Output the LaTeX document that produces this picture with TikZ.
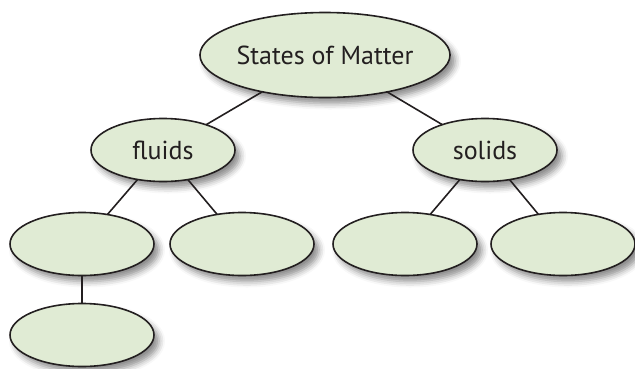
\documentclass[tikz,border=0pt]{standalone}
\usepackage{fontspec}
\setmainfont{PT Sans}
\usetikzlibrary{shapes.geometric,shadows.blur}
\definecolor{bubble}{RGB}{224,235,212}
\definecolor{ink}{RGB}{35,31,32}
\begin{document}
\begin{tikzpicture}[x=1pt,y=-1pt,
  concept/.style={ellipse, draw=ink, line width=1.6pt, fill=bubble,
    minimum width=144pt, minimum height=63pt, inner sep=0pt, outer sep=0pt,
    text=ink, font=\fontsize{26}{30}\selectfont,
    blur shadow={shadow xshift=5pt, shadow yshift=-6pt, shadow opacity=45, shadow blur radius=6pt}},
  root/.style={concept, minimum width=240pt, minimum height=85pt},
  link/.style={draw=ink, line width=1.6pt}]
\useasboundingbox (0,0) rectangle (635,368);
\node[root]    (matter) at (325,55)  {States of Matter};
\node[concept] (fluids) at (163,150) {fluids};
\node[concept] (solids) at (485,150) {solids};
\node[concept] (f1) at (82,244)  {};
\node[concept] (f2) at (242,244) {};
\node[concept] (s1) at (405,244) {};
\node[concept] (s2) at (563,244) {};
\node[concept] (f11) at (82,335) {};
\draw[link] (matter) -- (fluids);
\draw[link] (matter) -- (solids);
\draw[link] (fluids) -- (f1);
\draw[link] (fluids) -- (f2);
\draw[link] (solids) -- (s1);
\draw[link] (solids) -- (s2);
\draw[link] (f1) -- (f11);
\end{tikzpicture}
\end{document}
